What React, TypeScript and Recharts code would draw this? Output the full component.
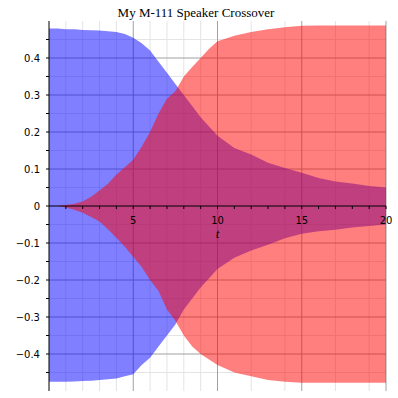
import React from 'react';
import { ComposedChart, Area, XAxis, YAxis, CartesianGrid } from 'recharts';

// time samples (t) and envelope values
const times = [0, 0.5, 1, 1.5, 2, 2.5, 3, 3.5, 4, 4.5, 5, 5.5, 6, 6.5, 7, 7.5, 8, 8.5, 9, 9.5, 10, 11, 12, 13, 14, 15, 16, 17, 18, 19, 20];
const blueHigh = [0.48, 0.48, 0.478, 0.478, 0.476, 0.475, 0.474, 0.472, 0.47, 0.465, 0.455, 0.44, 0.42, 0.39, 0.36, 0.33, 0.3, 0.27, 0.24, 0.215, 0.19, 0.157, 0.139, 0.117, 0.103, 0.09, 0.076, 0.066, 0.061, 0.054, 0.05];
const blueLow = [-0.475, -0.475, -0.475, -0.474, -0.473, -0.472, -0.47, -0.468, -0.466, -0.46, -0.455, -0.43, -0.41, -0.38, -0.35, -0.32, -0.28, -0.25, -0.22, -0.195, -0.17, -0.14, -0.12, -0.105, -0.087, -0.075, -0.068, -0.064, -0.058, -0.054, -0.05];
const redHigh = [0, 0, 0.003, 0.006, 0.012, 0.025, 0.042, 0.06, 0.085, 0.105, 0.125, 0.16, 0.2, 0.25, 0.29, 0.31, 0.35, 0.376, 0.4, 0.425, 0.445, 0.46, 0.47, 0.478, 0.483, 0.487, 0.488, 0.488, 0.488, 0.488, 0.488];
const redLow = [0, 0, -0.004, -0.01, -0.018, -0.03, -0.042, -0.063, -0.086, -0.11, -0.137, -0.165, -0.2, -0.23, -0.28, -0.31, -0.35, -0.38, -0.4, -0.415, -0.43, -0.45, -0.46, -0.47, -0.475, -0.478, -0.478, -0.478, -0.478, -0.478, -0.478];

const xTicks = [1, 2, 3, 4, 5, 6, 7, 8, 9, 10, 11, 12, 13, 14, 15, 16, 17, 18, 19, 20];
const xLabelTicks = [5, 10, 15, 20];
const yTicks = [-0.45, -0.4, -0.35, -0.3, -0.25, -0.2, -0.15, -0.1, -0.05, 0, 0.05, 0.1, 0.15, 0.2, 0.25, 0.3, 0.35, 0.4, 0.45];
const yLabelTicks = [-0.4, -0.3, -0.2, -0.1, 0, 0.1, 0.2, 0.3, 0.4];
const minorX = [1, 2, 3, 4, 6, 7, 8, 9, 11, 12, 13, 14, 16, 17, 18, 19];
const majorX = [5, 10, 15, 20];
const minorY = [-0.45, -0.35, -0.25, -0.15, -0.05, 0.05, 0.15, 0.25, 0.35, 0.45];
const majorY = [-0.4, -0.3, -0.2, -0.1, 0.1, 0.2, 0.3, 0.4];

const title = 'My M-111 Speaker Crossover';

const rows = times.map((t, i) => ({
  t,
  blue: [blueLow[i], blueHigh[i]],
  red: [redLow[i], redHigh[i]],
}));

const fmtY = (v: number) => {
  const hit = yLabelTicks.some((l) => Math.abs(l - v) < 1e-9);
  if (!hit) return '';
  if (Math.abs(v) < 1e-9) return '0';
  const s = Math.abs(v).toFixed(1);
  return v < 0 ? '\u2212' + s : s;
};

const fmtX = (v: number) => (xLabelTicks.includes(v) ? String(v) : '');

const tickFont = { fontSize: 10, fill: '#000', fontFamily: 'DejaVu Sans' };

export default function App() {
  return (
    <div style={{ position: 'absolute', left: 0, top: 0, width: 398, height: 398, background: '#fff' }}>
      <div style={{ position: 'absolute', left: 0, top: 0 }}>
        <ComposedChart width={398} height={398} data={rows} margin={{ top: 21, right: 12, bottom: 7, left: 0 }}>
          <CartesianGrid stroke="#e4e4e4" horizontalValues={minorY} verticalValues={minorX} />
          <CartesianGrid stroke="#a0a0a0" horizontalValues={majorY} verticalValues={majorX} />
          <XAxis type="number" dataKey="t" domain={[0, 20]} hide />
          <YAxis
            type="number"
            domain={[-0.5, 0.5]}
            allowDataOverflow
            ticks={yTicks}
            interval={0}
            width={49}
            tickSize={3}
            tickMargin={6}
            tickFormatter={fmtY}
            axisLine={{ stroke: '#000' }}
            tickLine={{ stroke: '#000' }}
            tick={tickFont}
          />
          <Area type="linear" dataKey="blue" stroke="none" fill="#0000ff" fillOpacity={0.5} isAnimationActive={false} />
          <Area type="linear" dataKey="red" stroke="none" fill="#ff0000" fillOpacity={0.5} isAnimationActive={false} />
        </ComposedChart>
      </div>
      <div style={{ position: 'absolute', left: 0, top: 0, pointerEvents: 'none' }}>
        <ComposedChart width={398} height={398} data={rows} margin={{ top: 21, right: 12, bottom: 162, left: 49 }}>
          <XAxis
            type="number"
            dataKey="t"
            domain={[0, 20]}
            allowDataOverflow
            ticks={xTicks}
            interval={0}
            height={30}
            tickSize={3}
            tickMargin={8}
            tickFormatter={fmtX}
            axisLine={{ stroke: '#000' }}
            tickLine={{ stroke: '#000' }}
            tick={tickFont}
            label={{ value: 't', position: 'insideBottom', offset: -2, style: { fontStyle: 'italic', fontFamily: 'Liberation Serif', fontSize: 13, fill: '#000' } }}
          />
          <YAxis hide type="number" domain={[-0.5, 0.5]} />
        </ComposedChart>
      </div>
      <svg width={398} height={24} style={{ position: 'absolute', left: 0, top: 0 }}>
        <text x={196} y={17} textAnchor="middle" fontFamily="Liberation Serif" fontSize={13} fill="#000">
          {title}
        </text>
      </svg>
    </div>
  );
}
